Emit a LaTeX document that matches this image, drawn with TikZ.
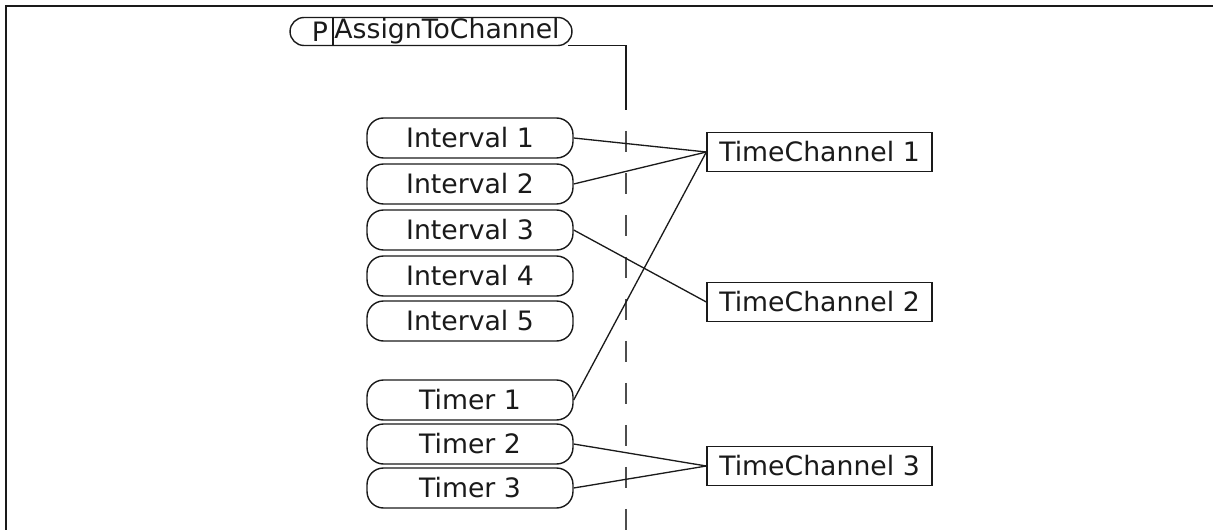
\documentclass[tikz,border=0pt]{standalone}
\usepackage{fontspec}
\setmainfont{DejaVu Sans}
\definecolor{DiagInk}{HTML}{1A1A1A}
\definecolor{DiagDash}{HTML}{4D4D4D}

\begin{document}
\begin{tikzpicture}[x=0.02cm,y=-0.02cm,
    every node/.style={font=\fontsize{15.2}{18}\selectfont,text=DiagInk},
    slot/.style={draw=DiagInk,line width=0.8pt,rounded corners=0.33cm,
      minimum width=4.12cm,minimum height=0.8cm,inner sep=0pt},
    chanbox/.style={draw=DiagInk,line width=0.8pt,
      minimum width=4.5cm,minimum height=0.78cm,inner sep=0pt},
    link/.style={DiagInk,line width=0.75pt}]
  \useasboundingbox (0,0) rectangle (1213,530);
  \draw[DiagInk,line width=1.3pt] (6,540) -- (6,6) -- (1225,6);

  % parameter
  \node[slot,rounded corners=0.28cm,minimum width=5.64cm,minimum height=0.56cm]
    (param) at (431,31.5) {};
  \node (ptag) at (320,31.5) {P};
  \node (pname) at (447,31.5) {AssignToChannel};
  \coordinate (psep) at (333,31);
  \draw[link] (psep |- param.north) -- (psep |- param.south);

  \coordinate (pout) at (568,45.5);
  \coordinate (drop) at (626,45.5);
  \coordinate (dropend) at (626,110);
  \coordinate (dashtop) at (626,131);
  \coordinate (dashbot) at (626,535);
  \draw[link] (pout) -- (drop) -- (dropend);
  \draw[DiagDash,line width=0.75pt,dash pattern=on 0.42cm off 0.42cm]
    (dashtop) -- (dashbot);

  % sources
  \foreach \y/\k in {138/1,184/2,230/3,276/4,321/5}
    \node[slot] (int\k) at (470,\y) {Interval \k};
  \foreach \y/\k in {400/1,444/2,488/3}
    \node[slot] (tmr\k) at (470,\y) {Timer \k};

  % channels
  \foreach \y/\k in {152/1,302/2,466/3}
    \node[chanbox] (chan\k) at (819.5,\y) {TimeChannel \k};

  \foreach \src/\dst in {int1/chan1,int2/chan1,tmr1/chan1,int3/chan2,tmr2/chan3,tmr3/chan3}
    \draw[link] (\src.east) -- (\dst.west);
\end{tikzpicture}
\end{document}
